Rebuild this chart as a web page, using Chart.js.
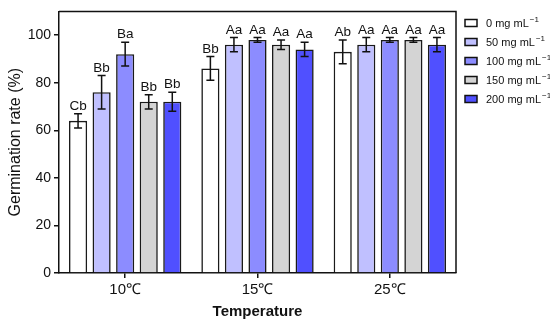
<!DOCTYPE html>
<html>
<head>
<meta charset="utf-8">
<script src="https://cdn.jsdelivr.net/npm/chart.js@4.4.1/dist/chart.umd.min.js"></script>
<style>
  html, body { margin: 0; padding: 0; background: #fff; }
  #wrap { width: 550px; height: 325px; }
</style>
</head>
<body>
<div id="wrap"><canvas id="chart" width="550" height="325"></canvas></div>
<script>
// Data
const temps = ['10\u2103', '15\u2103', '25\u2103'];
const concLabels = ['0 mg mL', '50 mg mL', '100 mg mL', '150 mg mL', '200 mg mL'];
const colors = ['#ffffff', '#c0c0ff', '#8c8cff', '#d4d4d4', '#5050ff'];

const rate0 = [64, 86, 93];
const rate50 = [76, 96, 96];
const rate100 = [92, 98, 98];
const rate150 = [72, 96, 98];
const rate200 = [72, 94, 96];

const err0 = [3, 5, 5];
const err50 = [7, 3, 3];
const err100 = [5, 1, 1];
const err150 = [3, 2, 1];
const err200 = [4, 3, 3];

const sig0 = ['Cb', 'Bb', 'Ab'];
const sig50 = ['Bb', 'Aa', 'Aa'];
const sig100 = ['Ba', 'Aa', 'Aa'];
const sig150 = ['Bb', 'Aa', 'Aa'];
const sig200 = ['Bb', 'Aa', 'Aa'];

const rates = [rate0, rate50, rate100, rate150, rate200];
const errs = [err0, err50, err100, err150, err200];
const sigs = [sig0, sig50, sig100, sig150, sig200];

const FONT = "'Liberation Sans', Arial, sans-serif";

// error bars, letters, frame and legend
const extras = {
    id: 'extras',
    afterDatasetsDraw: function (chart) {
        const ctx = chart.ctx;
        const y = chart.scales.y;
        const area = chart.chartArea;
        ctx.save();
        ctx.strokeStyle = '#111';
        ctx.lineWidth = 1.5;
        chart.data.datasets.forEach(function (ds, i) {
            const meta = chart.getDatasetMeta(i);
            meta.data.forEach(function (bar, j) {
                const v = ds.data[j];
                const e = errs[i][j];
                const yTop = y.getPixelForValue(v + e);
                const yBot = y.getPixelForValue(v - e);
                const x = bar.x;
                ctx.beginPath();
                ctx.moveTo(x, yTop); ctx.lineTo(x, yBot);
                ctx.moveTo(x - 4, yTop); ctx.lineTo(x + 4, yTop);
                ctx.moveTo(x - 4, yBot); ctx.lineTo(x + 4, yBot);
                ctx.stroke();
                ctx.fillStyle = '#111';
                ctx.font = '13.5px ' + FONT;
                ctx.textAlign = 'center';
                ctx.textBaseline = 'alphabetic';
                ctx.fillText(sigs[i][j], x, yTop - 4);
            });
        });

        // frame top/right
        ctx.beginPath();
        ctx.moveTo(area.left, area.top);
        ctx.lineTo(area.right, area.top);
        ctx.lineTo(area.right, area.bottom);
        ctx.stroke();

        // legend
        const lx = 465, ly0 = 23, step = 19;
        concLabels.forEach(function (lab, i) {
            const cy = ly0 + i * step;
            ctx.fillStyle = colors[i];
            ctx.fillRect(lx, cy - 3.5, 12, 7);
            ctx.lineWidth = 1.5;
            ctx.strokeStyle = '#111';
            ctx.strokeRect(lx, cy - 3.5, 12, 7);
            ctx.fillStyle = '#111';
            ctx.textAlign = 'left';
            ctx.textBaseline = 'middle';
            ctx.font = '11px ' + FONT;
            ctx.fillText(lab, 486, cy + 1);
            const w = ctx.measureText(lab).width;
            ctx.font = '8px ' + FONT;
            ctx.fillText('\u22121', 486 + w + 1, cy - 3);
        });
        ctx.restore();
    }
};

const datasets = rates.map(function (r, i) {
    return {
        label: concLabels[i] + '\u207b\u00b9',
        data: r,
        backgroundColor: colors[i],
        borderColor: '#1a1a1a',
        borderWidth: 1.6,
        categoryPercentage: 0.89,
        barPercentage: 0.77
    };
});

new Chart(document.getElementById('chart').getContext('2d'), {
    type: 'bar',
    data: { labels: temps, datasets: datasets },
    options: {
        responsive: false,
        animation: false,
        layout: { padding: { top: 9, right: 94, left: 0, bottom: 0 } },
        plugins: {
            legend: { display: false },
            tooltip: { enabled: false }
        },
        scales: {
            x: {
                afterFit: function (s) { s.height = 52; },
                grid: { display: true, drawOnChartArea: false, offset: false, color: '#111', lineWidth: 1.5, tickLength: 5 },
                border: { display: true, color: '#111', width: 1.5 },
                ticks: { color: '#111', font: { size: 15, family: FONT }, padding: 3 },
                title: { display: true, text: 'Temperature', color: '#111', font: { size: 15, weight: 'bold', family: FONT }, padding: { top: 0, bottom: 4 } }
            },
            y: {
                min: 0,
                max: 110,
                afterFit: function (s) { s.width = 59; },
                afterBuildTicks: function (s) {
                    s.ticks = [0, 20, 40, 60, 80, 100].map(function (v) { return { value: v }; });
                },
                grid: { display: true, drawOnChartArea: false, color: '#111', lineWidth: 1.5, tickLength: 5 },
                border: { display: true, color: '#111', width: 1.5 },
                ticks: { color: '#111', font: { size: 14, family: FONT }, padding: 3 },
                title: { display: true, text: 'Germination rate (%)', color: '#111', font: { size: 16, family: FONT }, padding: { top: 6, bottom: 0 } }
            }
        }
    },
    plugins: [extras]
});
</script>
</body>
</html>
